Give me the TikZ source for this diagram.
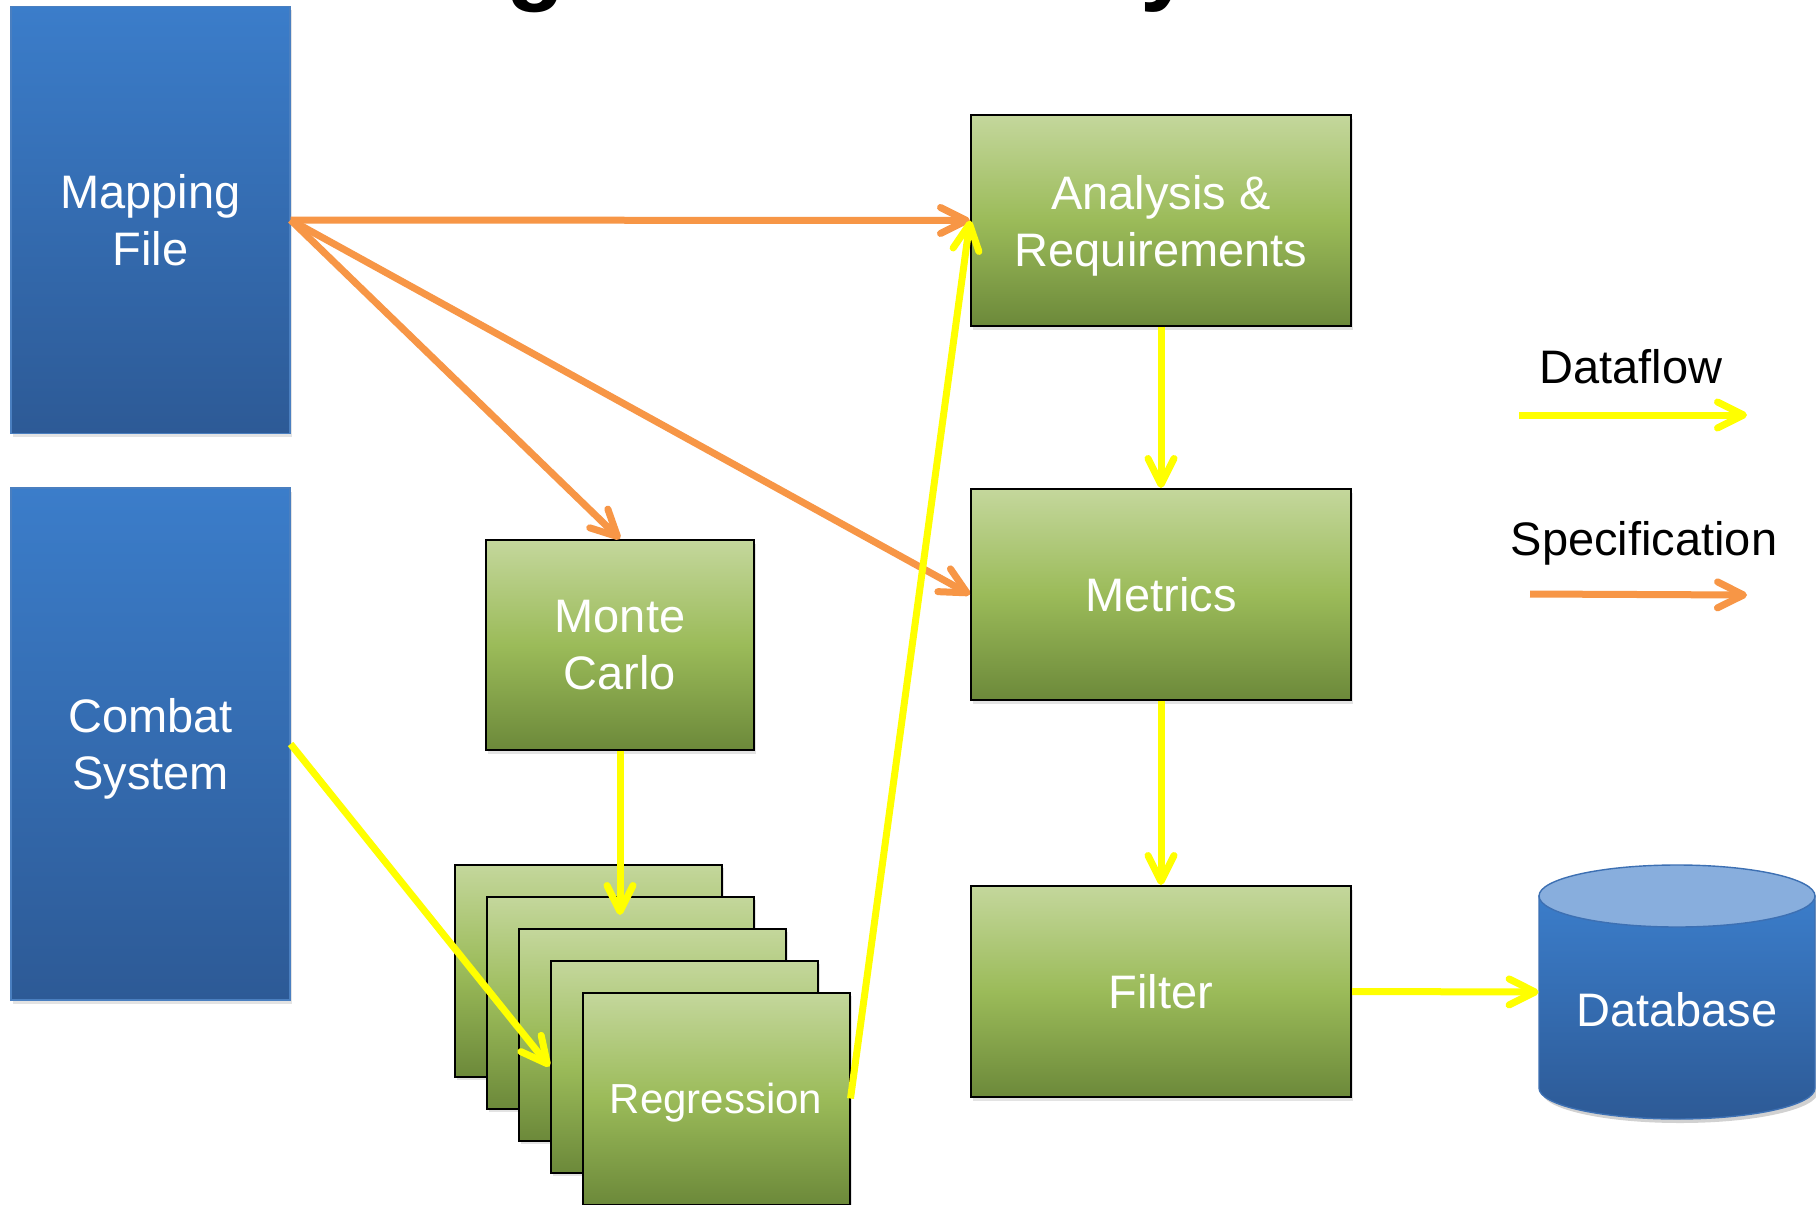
\documentclass[tikz,border=0pt]{standalone}
\usepackage{fontspec}
\setmainfont{Liberation Sans}
\usetikzlibrary{arrows.meta,shadows}

\definecolor{gTop}{HTML}{C4D79C}
\definecolor{gMid}{HTML}{9BBB59}
\definecolor{gBot}{HTML}{6C893A}
\definecolor{bTop}{HTML}{3B7DCA}
\definecolor{bBot}{HTML}{2D5A96}
\definecolor{bEdge}{HTML}{4A7FC0}
\definecolor{dbTop}{HTML}{88AEDD}
\definecolor{dbEdge}{HTML}{3D70B3}
\definecolor{flowYellow}{HTML}{FFFF00}
\definecolor{specOrange}{HTML}{F79646}

\newcommand{\boxfont}{\fontsize{23.5}{28.5}\selectfont}
\newcommand{\regfont}{\fontsize{21}{25}\selectfont}
\newcommand{\headfont}{\fontsize{48}{58}\selectfont\bfseries}

\begin{document}
\begin{tikzpicture}[
  x=0.5pt, y=-0.5pt,
  softshadow/.style={drop shadow={opacity=0.22, shadow xshift=1.2pt, shadow yshift=-1.8pt}},
  bbox/.style={rectangle, draw=bEdge, line width=0.6pt, top color=bTop, bottom color=bBot,
    text=white, font=\boxfont, align=center, inner sep=0pt, text depth=0pt,
    minimum width=139.5pt, softshadow},
  gbox/.style={rectangle, draw=black, line width=1pt, top color=gTop, bottom color=gBot,
    middle color=gMid, text=white, font=\boxfont, align=center, inner sep=0pt,
    text depth=0pt, softshadow},
  bigbox/.style={gbox, minimum width=190pt, minimum height=105.5pt},
  stackbox/.style={gbox, minimum width=133.5pt, minimum height=106pt},
  tip/.style={-{Straight Barb[length=13pt, width=13pt, round]}},
  flow/.style={draw=flowYellow, line width=3.5pt, tip},
  spec/.style={draw=specOrange, line width=3.5pt, tip},
  legendtext/.style={font=\boxfont, text=black, anchor=base, inner sep=0pt},
]

\useasboundingbox (0,0) rectangle (1816,1205);
\clip (0,0) rectangle (1816,1205);
\fill[white] (0,0) rectangle (1816,1205);

% heading, mostly above the page edge
\node[font=\headfont, anchor=base west, inner sep=0pt] (heading) at (383,-8) {Regression Analysis};

% sources
\node[bbox, minimum height=213.5pt] (map) at (150.5,220) {Mapping\\File};
\node[bbox, minimum height=256pt] (cs) at (150.5,744) {Combat\\System};

% processing chain
\node[bigbox] (ana) at (1161,220.5) {Analysis \&\\Requirements};
\node[bigbox] (met) at (1161,594.5) {Metrics};
\node[bigbox] (fil) at (1161,991.5) {Filter};

\node[gbox, minimum width=134pt, minimum height=105pt] (mc) at (620,645) {Monte\\Carlo};

% stack of regression runs
\node[stackbox] (r1) at (588,970.5) {};
\node[stackbox] (r2) at (620,1002.5) {};
\node[stackbox] (r3) at (652,1034.5) {};
\node[stackbox] (r4) at (684,1066.5) {};
\node[stackbox, font=\regfont] (r5) at (716,1098.5) {Regression};

% database cylinder
\path[fill=black, opacity=0.18, shift={(3,4)}]
  (1539,896) -- (1539,1088) .. controls (1539,1105.1) and (1600.8,1119) .. (1677,1119)
  .. controls (1753.2,1119) and (1815,1105.1) .. (1815,1088) -- (1815,896) -- cycle;
\path[top color=bTop, bottom color=bBot, draw=dbEdge, line width=0.7pt]
  (1539,896) -- (1539,1088) .. controls (1539,1105.1) and (1600.8,1119) .. (1677,1119)
  .. controls (1753.2,1119) and (1815,1105.1) .. (1815,1088) -- (1815,896) -- cycle;
\filldraw[fill=dbTop, draw=dbEdge, line width=0.7pt] (1677,896) ellipse [x radius=69pt, y radius=15.5pt];
\node[minimum width=138pt, minimum height=96pt, inner sep=0pt] (db) at (1677,992) {};
\node[font=\boxfont, text=white] (dblabel) at (1677,1010) {Database};

% specification links
\draw[spec] (map.east) -- (ana.west);
\draw[spec] (map.east) -- (mc.north);
\draw[spec] (map.east) -- (met.west);

% dataflow links
\coordinate (mcin) at (620,915);
\draw[flow] (cs.east) -- (r4.west);
\draw[flow] (mc.south) -- (mcin);
\draw[flow] (r5.east) -- (ana.west);
\draw[flow] (ana.south) -- (met.north);
\draw[flow] (met.south) -- (fil.north);
\draw[flow] (fil.east) -- (db.west);

% legend
\node[legendtext] (lgflow) at (1631,383) {Dataflow};
\node[legendtext] (lgspec) at (1644,555) {Specification};
\coordinate (lgf1) at (1519,415);
\coordinate (lgf2) at (1747,415);
\coordinate (lgs1) at (1530,594);
\coordinate (lgs2) at (1747,595);
\draw[flow] (lgf1) -- (lgf2);
\draw[spec] (lgs1) -- (lgs2);

\end{tikzpicture}
\end{document}
